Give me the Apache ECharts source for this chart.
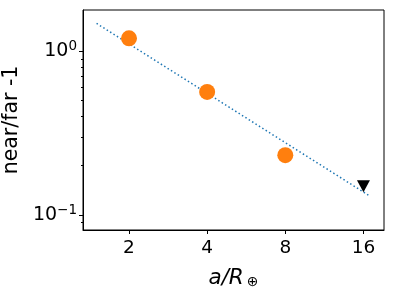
<html>
<head>
<meta charset="utf8">
<script src="https://cdn.jsdelivr.net/npm/echarts@6/dist/echarts.min.js" type="text/javascript"></script>
<title></title>
</head>
<body style="margin:0">
<div id="main" style="width:396px;height:288px;"></div>
<script type="text/javascript">
	// measured points
	var xMeasured = [2, 4, 8];
	var yMeasured = [1.2, 0.565, 0.232];
	// upper limit
	var xLimit = [16];
	var yLimit = [0.15];
	// dotted fit line ends
	var xFit = [1.5, 17];
	var yFit = [1.48, 0.13];
	var xTicks = [2, 4, 8, 16];
	var yTicks = [0.1, 1];
	var yMinor = [0.09, 0.2, 0.3, 0.4, 0.5, 0.6, 0.7, 0.8, 0.9];

	function pairs(xs, ys) {
		var out = [];
		for (var i = 0; i < xs.length; i++) out.push([xs[i], ys[i]]);
		return out;
	}

	var font = 'DejaVu Sans';
	var chart = echarts.init(document.getElementById('main'));
	var option = {
		animation: false,
		grid: {left: 83, right: 12, top: 10, bottom: 58, show: true, borderColor: '#000', borderWidth: 1,
			containLabel: false, outerBoundsMode: 'none'},
		xAxis: {
			type: 'log', logBase: 2, min: 1.33, max: 19.2,
			axisLine: {show: true, lineStyle: {color: '#000', width: 1}},
			axisTick: {show: true, inside: false, length: 4, customValues: xTicks, lineStyle: {color: '#000'}},
			axisLabel: {customValues: xTicks, margin: 9, color: '#000', fontFamily: font, fontSize: 18.5},
			splitLine: {show: false},
			name: '{i|a/R}{s|⊕}', nameLocation: 'middle', nameGap: 37,
			nameTextStyle: {
				rich: {
					i: {fontFamily: font, fontStyle: 'italic', fontSize: 21.5, color: '#000'},
					s: {fontFamily: font, fontSize: 14, color: '#000', padding: [8, 0, 0, 3]}
				}
			}
		},
		yAxis: [{
			type: 'log', logBase: 10, min: 0.081, max: 1.787,
			axisLine: {show: true, lineStyle: {color: '#000', width: 1}},
			axisTick: {show: true, inside: false, length: 4, customValues: yTicks, lineStyle: {color: '#000'}},
			axisLabel: {
				customValues: yTicks, margin: 6,
				formatter: function (v) {
					var e = Math.round(Math.log10(v));
					return '{b|10}{s|' + (e < 0 ? '\u2212' + (-e) : e) + '}';
				},
				rich: {
					b: {fontFamily: font, fontSize: 19, color: '#000'},
					s: {fontFamily: font, fontSize: 13.5, color: '#000', padding: [0, 0, 10, 0]}
				}
			},
			splitLine: {show: false},
			name: 'near/far -1', nameLocation: 'middle', nameGap: 55, nameRotate: 90,
			nameTextStyle: {fontFamily: font, fontSize: 20.5, color: '#000'}
		}, {
			type: 'log', logBase: 10, min: 0.081, max: 1.787, position: 'left',
			axisLine: {show: false},
			axisTick: {show: true, inside: false, length: 2, customValues: yMinor, lineStyle: {color: '#000'}},
			axisLabel: {show: false},
			splitLine: {show: false}
		}],
		series: [{
			type: 'line',
			data: pairs(xFit, yFit),
			symbol: 'none',
			lineStyle: {color: '#1f77b4', width: 1.5, type: [1.5, 2.5]},
			z: 1
		}, {
			type: 'scatter',
			data: pairs(xMeasured, yMeasured),
			symbol: 'circle', symbolSize: 16,
			itemStyle: {color: '#ff7f0e', opacity: 1},
			z: 3
		}, {
			type: 'scatter',
			data: pairs(xLimit, yLimit),
			symbol: 'triangle', symbolSize: [13, 12], symbolRotate: 180,
			itemStyle: {color: '#000', opacity: 1},
			z: 3
		}]
	};
	chart.setOption(option);
</script>
</body>
</html>
